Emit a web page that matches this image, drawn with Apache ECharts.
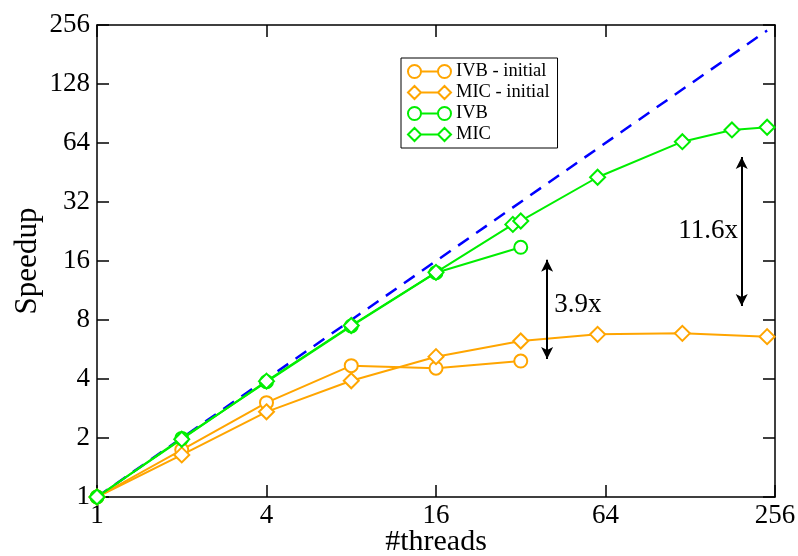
<!DOCTYPE html>
<html>
<head>
<meta charset="utf-8">
<script src="https://cdn.jsdelivr.net/npm/echarts@6/dist/echarts.min.js"></script>
<style>
  html, body { margin: 0; padding: 0; background: #fff; }
  #chart { width: 798px; height: 556px; }
</style>
</head>
<body>
<div id="chart"></div>
<script>
// thread counts
const threadsIVB = [1, 2, 4, 8, 16, 32];
const threadsMICInitial = [1, 2, 4, 8, 16, 32, 60, 120, 240];
const threadsMIC = [1, 2, 4, 8, 16, 30, 32, 60, 120, 180, 240];

// speedups
const ivbInitial = [1, 1.74, 3.03, 4.68, 4.54, 4.94];
const micInitial = [1, 1.64, 2.72, 3.92, 5.2, 6.25, 6.76, 6.84, 6.58];
const ivb = [1, 1.99, 3.87, 7.45, 13.95, 18.8];
const mic = [1, 1.97, 3.9, 7.5, 14, 24.6, 25.6, 42.8, 65, 74.6, 77];

const idealThreads = [1, 240];

const xTicks = [1, 4, 16, 64, 256];
const yTicks = [1, 2, 4, 8, 16, 32, 64, 128, 256];

const ORANGE = '#FFA500';
const GREEN = '#00EE00';
const FONT = 'Liberation Serif';

const zip = (xs, ys) => xs.map((x, i) => [x, ys[i]]);

const circleIcon = 'path://M0,6.5A6.5,6.5 0 1 1 13,6.5A6.5,6.5 0 1 1 0,6.5ZM13,6.5L30,6.5M30,6.5A6.5,6.5 0 1 1 43,6.5A6.5,6.5 0 1 1 30,6.5Z';
const diamondIcon = 'path://M0,6.5L6.5,0L13,6.5L6.5,13ZM13,6.5L30,6.5M30,6.5L36.5,0L43,6.5L36.5,13Z';

const myChart = echarts.init(document.getElementById('chart'));

const baseX = {
  type: 'log',
  logBase: 4,
  min: 1,
  max: 256,
  axisLine: { show: true, lineStyle: { color: '#000', width: 1.5 } },
  axisTick: { show: true, inside: true, length: 12, lineStyle: { color: '#000', width: 1.5 } },
  minorTick: { show: false },
  splitLine: { show: false }
};
const baseY = {
  type: 'log',
  logBase: 2,
  min: 1,
  max: 256,
  axisLine: { show: true, lineStyle: { color: '#000', width: 1.5 } },
  axisTick: { show: true, inside: true, length: 12, lineStyle: { color: '#000', width: 1.5 } },
  minorTick: { show: false },
  splitLine: { show: false }
};

const legendItem = (name, icon, color) => ({
  name: name,
  icon: icon,
  itemStyle: { color: 'transparent', borderColor: color, borderWidth: 2 }
});

const option = {
  animation: false,
  backgroundColor: '#fff',
  textStyle: { fontFamily: FONT },
  grid: { left: 97, right: 23, top: 25, bottom: 59, containLabel: false, outerBoundsMode: 'none' },
  legend: {
    orient: 'vertical',
    left: 401,
    top: 58,
    padding: [4, 8, 4, 6],
    borderColor: '#000',
    borderWidth: 1,
    itemWidth: 43,
    itemHeight: 13,
    itemGap: 2,
    textStyle: { fontFamily: FONT, fontSize: 18.5, color: '#000', lineHeight: 18.5 },
    data: [
      legendItem('IVB - initial', circleIcon, ORANGE),
      legendItem('MIC - initial', diamondIcon, ORANGE),
      legendItem('IVB', circleIcon, GREEN),
      legendItem('MIC', diamondIcon, GREEN)
    ]
  },
  xAxis: [
    Object.assign({}, baseX, {
      position: 'bottom',
      name: '#threads',
      nameLocation: 'middle',
      nameGap: 30,
      nameMoveOverlap: false,
      nameTextStyle: { fontFamily: FONT, fontSize: 30, color: '#000', lineHeight: 30 },
      axisLabel: {
        fontFamily: FONT, fontSize: 27, color: '#000', margin: 5,
        formatter: v => xTicks.includes(Math.round(v)) ? String(Math.round(v)) : ''
      }
    }),
    Object.assign({}, baseX, { position: 'top', axisLabel: { show: false } })
  ],
  yAxis: [
    Object.assign({}, baseY, {
      position: 'left',
      name: 'Speedup',
      nameLocation: 'middle',
      nameGap: 54,
      nameMoveOverlap: false,
      nameTextStyle: { fontFamily: FONT, fontSize: 31, color: '#000', lineHeight: 31 },
      axisLabel: {
        fontFamily: FONT, fontSize: 27, color: '#000', margin: 7,
        formatter: v => yTicks.includes(Math.round(v)) ? String(Math.round(v)) : ''
      }
    }),
    Object.assign({}, baseY, { position: 'right', axisLabel: { show: false } })
  ],
  series: [
    {
      name: 'ideal',
      type: 'line',
      data: zip(idealThreads, idealThreads),
      symbol: 'none',
      lineStyle: { color: '#0000FF', width: 2.5, type: [13, 9] },
      z: 1,
      markLine: {
        silent: true,
        symbol: ['arrow', 'arrow'],
        symbolSize: [9, 12],
        label: { show: false },
        lineStyle: { color: '#000', width: 2, type: 'solid' },
        data: [
          [{ coord: [39.7, 16.25] }, { coord: [39.7, 5.06] }],
          [{ coord: [195, 54.3] }, { coord: [195, 9.43] }]
        ]
      },
      markPoint: {
        silent: true,
        symbol: 'circle',
        symbolSize: 0,
        label: {
          show: true, formatter: '{b}', position: 'inside',
          fontFamily: FONT, fontSize: 27, color: '#000'
        },
        data: [
          { name: '3.9x', coord: [51.1, 9.54] },
          { name: '11.6x', coord: [148, 22.8] }
        ]
      }
    },
    {
      name: 'IVB - initial',
      type: 'line',
      data: zip(threadsIVB, ivbInitial),
      symbol: 'emptyCircle',
      symbolSize: 13,
      color: ORANGE,
      lineStyle: { width: 2 },
      itemStyle: { borderWidth: 2 }
    },
    {
      name: 'MIC - initial',
      type: 'line',
      data: zip(threadsMICInitial, micInitial),
      symbol: 'emptyDiamond',
      symbolSize: 15,
      color: ORANGE,
      lineStyle: { width: 2 },
      itemStyle: { borderWidth: 2 }
    },
    {
      name: 'IVB',
      type: 'line',
      data: zip(threadsIVB, ivb),
      symbol: 'emptyCircle',
      symbolSize: 13,
      color: GREEN,
      lineStyle: { width: 2 },
      itemStyle: { borderWidth: 2 }
    },
    {
      name: 'MIC',
      type: 'line',
      data: zip(threadsMIC, mic),
      symbol: 'emptyDiamond',
      symbolSize: 15,
      color: GREEN,
      lineStyle: { width: 2 },
      itemStyle: { borderWidth: 2 }
    }
  ]
};

myChart.setOption(option);
</script>
</body>
</html>
